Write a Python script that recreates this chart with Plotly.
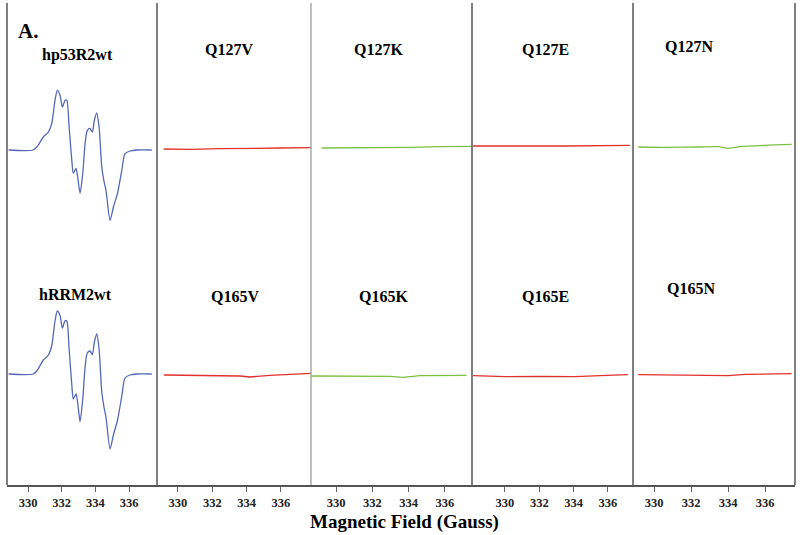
import plotly.graph_objects as go

# EPR spectra (field in Gauss, intensity in arbitrary units)
field_wt   = [328.85, 330.30, 330.52, 330.91, 331.21, 331.41, 331.60, 331.74, 331.90, 332.04, 332.20, 332.30,
              332.44, 332.60, 332.69, 332.85, 332.95, 333.09, 333.25, 333.39, 333.52, 333.68, 333.82, 333.94,
              334.08, 334.22, 334.38, 334.52, 334.63, 334.87, 335.07, 335.31, 335.57, 335.76, 336.06, 336.46, 337.35]
hp53R2wt   = [0, 0, 3, 13, 18, 26.7, 49.7, 59.7, 54.7, 43, 49.7, 49.7, 23, -10.3, -23.3, -18.3, -27, -43.3,
              -23.3, 6.7, 19.7, 21.7, 18, 29.7, 37, 23, -17, -32, -40.3, -70.3, -57, -43.6, -20.3, -3.6, -1, 0, 0]
hRRM2wt    = [0, 0, 3, 14, 19, 28.5, 53, 63, 58.5, 46, 53.3, 53, 25, -11, -25, -20, -29, -47.7,
              -25, 7, 21, 23, 19.5, 32, 40, 25, -18, -34, -43, -75, -61, -46.5, -22, -4, -1, 0, 0]

field_Q127V = [329.17, 330.70, 332.45, 334.19, 335.94, 337.75]
int_Q127V   = [1, 0.7, 1.3, 1.3, 2, 2.3]
field_Q127K = [329.21, 330.77, 332.42, 334.07, 335.72, 337.47]
int_Q127K   = [2, 2, 2.3, 2.7, 3.3, 3.7]
field_Q127E = [328.14, 330.00, 331.75, 333.49, 335.53, 337.28]
int_Q127E   = [4, 3.7, 4, 4, 4.3, 4.7]
field_Q127N = [329.14, 330.59, 332.49, 333.46, 333.95, 334.65, 336.00, 337.44]
int_Q127N   = [3, 2.7, 3, 3.3, 1.7, 3.3, 4.7, 5.7]

field_Q165V = [329.18, 331.28, 333.61, 334.19, 335.36, 337.75]
int_Q165V   = [-1, -1.7, -2, -3, -1.3, 0.7]
field_Q165K = [328.62, 330.77, 332.97, 333.69, 334.62, 337.19]
int_Q165K   = [-2, -2, -2.3, -3.3, -1.7, -1.3]
field_Q165E = [328.14, 330.00, 332.04, 334.08, 335.53, 337.16]
int_Q165E   = [-1.7, -2.7, -2.3, -2.7, -1.7, -0.7]
field_Q165N = [329.14, 331.41, 334.00, 334.92, 337.44]
int_Q165N   = [-0.7, -1, -1.7, -0.3, 0.3]

tickVals = [330, 332, 334, 336]

BLUE  = '#5468b8'
RED   = '#e2312e'
GREEN = '#7cc043'

W, H = 800, 535
L, R, T, B = 7, 5, 3, 50
pw, ph = W - L - R, H - T - B

def px2paper_x(px):
    return (px - L) / pw

def px2paper_y(py):
    return (H - B - py) / ph

topBase, botBase = 335, 111   # vertical offsets of the two rows

# panel pixel edges and x ranges
panels = [
    (7,   157, [328.75, 337.66]),
    (157, 311, [328.78, 337.75]),
    (311, 472, [328.62, 337.49]),
    (472, 633, [328.08, 337.46]),
    (633, 795, [328.86, 337.62]),
]

fig = go.Figure()

series = [
    (1, field_wt,    hp53R2wt, topBase, BLUE,  'spline'),
    (1, field_wt,    hRRM2wt,  botBase, BLUE,  'spline'),
    (2, field_Q127V, int_Q127V, topBase, RED,   'linear'),
    (2, field_Q165V, int_Q165V, botBase, RED,   'linear'),
    (3, field_Q127K, int_Q127K, topBase, GREEN, 'linear'),
    (3, field_Q165K, int_Q165K, botBase, GREEN, 'linear'),
    (4, field_Q127E, int_Q127E, topBase, RED,   'linear'),
    (4, field_Q165E, int_Q165E, botBase, RED,   'linear'),
    (5, field_Q127N, int_Q127N, topBase, GREEN, 'spline'),
    (5, field_Q165N, int_Q165N, botBase, RED,   'linear'),
]

for k, xs, ys, off, col, shp in series:
    xa = 'x' if k == 1 else 'x%d' % k
    fig.add_trace(go.Scatter(x=xs, y=[v + off for v in ys], mode='lines', xaxis=xa, yaxis='y',
                             line=dict(color=col, width=1.3, shape=shp, smoothing=0.7),
                             showlegend=False, hoverinfo='skip'))

layout = dict(
    width=W, height=H, margin=dict(l=L, r=R, t=T, b=B),
    plot_bgcolor='white', paper_bgcolor='white', showlegend=False,
    yaxis=dict(range=[0, ph], visible=False, anchor='x', fixedrange=True),
)
for i, (x0, x1, rng) in enumerate(panels):
    name = 'xaxis' if i == 0 else 'xaxis%d' % (i + 1)
    layout[name] = dict(
        domain=[px2paper_x(x0), px2paper_x(x1)], range=rng, anchor='y',
        tickvals=tickVals, ticks='outside', ticklen=5, tickcolor='#666',
        showline=True, linecolor='#555', linewidth=1.5, showgrid=False, zeroline=False,
        tickfont=dict(family='Liberation Serif', size=12.5, color='#222', weight='bold'),
    )
fig.update_layout(**layout)

# panel dividers
dividers = [(7, '#555'), (157, '#555'), (311, '#aaa'), (472, '#555'), (633, '#555'), (795, '#555')]
for xp, col in dividers:
    fig.add_shape(type='line', xref='paper', yref='paper', x0=px2paper_x(xp), x1=px2paper_x(xp),
                  y0=0, y1=1, line=dict(color=col, width=1.5))

labels = [
    ('hp53R2wt', 77, 55), ('Q127V', 229, 50), ('Q127K', 378, 50), ('Q127E', 545, 50), ('Q127N', 689, 46),
    ('hRRM2wt', 75, 294), ('Q165V', 235, 296), ('Q165K', 383, 296), ('Q165E', 545, 296), ('Q165N', 691, 288),
]
for txt, xp, yp in labels:
    fig.add_annotation(text=txt, x=px2paper_x(xp), y=px2paper_y(yp), xref='paper', yref='paper',
                       showarrow=False, xanchor='center', yanchor='middle',
                       font=dict(family='Liberation Serif', size=16, color='black', weight='bold'))

fig.add_annotation(text='A.', x=px2paper_x(16), y=px2paper_y(31), xref='paper', yref='paper',
                   showarrow=False, xanchor='left', yanchor='middle',
                   font=dict(family='Liberation Serif', size=21, color='black', weight='bold'))

fig.add_annotation(text='Magnetic Field (Gauss)', x=px2paper_x(404), y=px2paper_y(522), xref='paper', yref='paper',
                   showarrow=False, xanchor='center', yanchor='middle',
                   font=dict(family='Liberation Serif', size=19, color='black', weight='bold'))

# page body has a default 8px margin; drop it so the figure sits at the window's corner
fig.write_html("out.html", config={'displayModeBar': False},
               post_script="document.body.style.margin='0';document.body.style.overflow='hidden';")
